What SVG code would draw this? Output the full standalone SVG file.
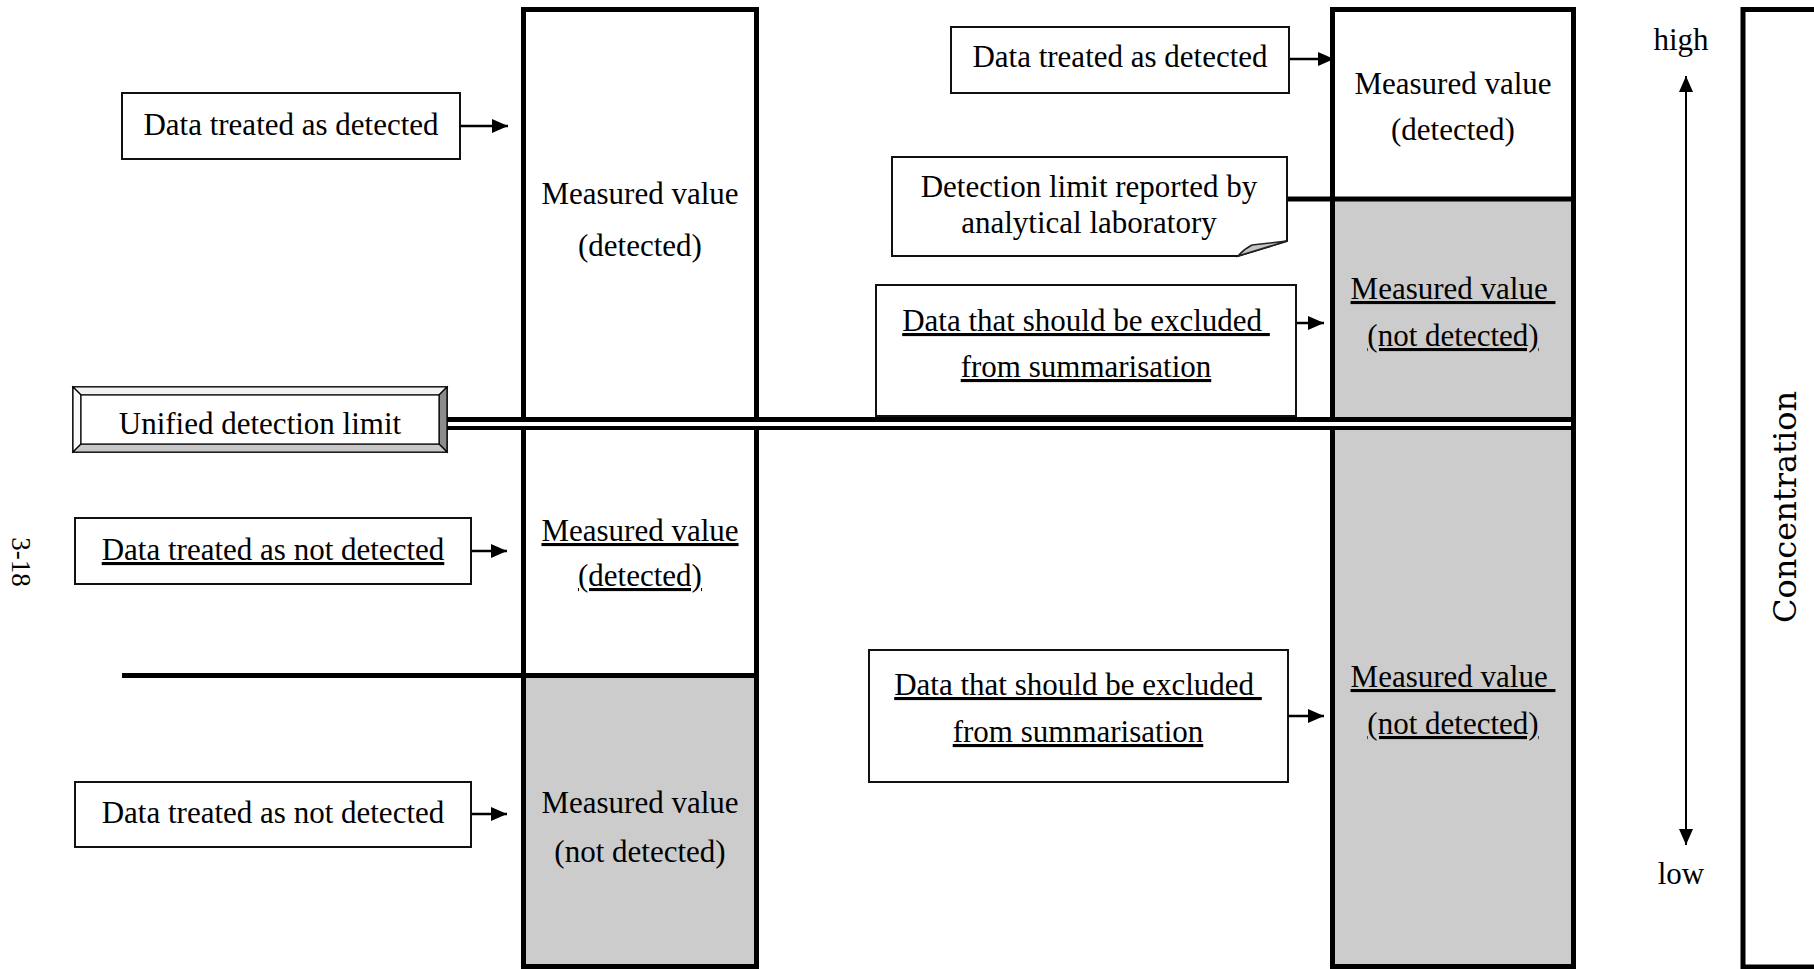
<svg xmlns="http://www.w3.org/2000/svg" width="1814" height="969" viewBox="0 0 1814 969">
<style>
text{font-family:"Liberation Serif","Times New Roman",serif;font-size:31px;fill:#000;text-anchor:middle}
.u{text-decoration:underline}
.box{fill:#fff;stroke:#111;stroke-width:2}
.col{fill:none;stroke:#000;stroke-width:5}
.gray{fill:#cccccc}
.thick{stroke:#000;stroke-width:5;fill:none}
.arr{stroke:#000;stroke-width:2.5;fill:none;marker-end:url(#ah)}
.varr{stroke:#000;stroke-width:2;fill:none;marker-end:url(#ah);marker-start:url(#ahs)}
</style>
<defs>
<marker id="ah" viewBox="0 0 16 14" refX="16" refY="7" markerWidth="16" markerHeight="14" markerUnits="userSpaceOnUse" orient="auto"><path d="M0,0 L16,7 L0,14 z" fill="#000"/></marker>
<marker id="ahs" viewBox="0 0 16 14" refX="16" refY="7" markerWidth="16" markerHeight="14" markerUnits="userSpaceOnUse" orient="auto-start-reverse"><path d="M0,0 L16,7 L0,14 z" fill="#000"/></marker>
</defs>
<rect width="1814" height="969" fill="#fff"/>

<g id="left-column">
<rect x="523.5" y="9.5" width="233" height="957" fill="#fff"/>
<rect class="gray" x="523.5" y="675" width="233" height="291.5"/>
<rect class="col" x="523.5" y="9.5" width="233" height="957"/>
<text x="640" y="204">Measured value</text>
<text x="640" y="256">(detected)</text>
<text class="u" x="640" y="541">Measured value</text>
<text class="u" x="640" y="586">(detected)</text>
<text x="640" y="813">Measured value</text>
<text x="640" y="862">(not detected)</text>
</g>

<g id="right-column">
<rect x="1332.5" y="9.5" width="241" height="957" fill="#fff"/>
<rect class="gray" x="1332.5" y="199" width="241" height="767.5"/>
<rect class="col" x="1332.5" y="9.5" width="241" height="957"/>
<text x="1453" y="94">Measured value</text>
<text x="1453" y="140">(detected)</text>
<text class="u" x="1453" y="299" xml:space="preserve">Measured value </text>
<text class="u" x="1453" y="346">(not detected)</text>
<text class="u" x="1453" y="687" xml:space="preserve">Measured value </text>
<text class="u" x="1453" y="734">(not detected)</text>
</g>

<g id="concentration-box">
<rect class="col" x="1743" y="9.5" width="100" height="957.5"/>
<text transform="translate(1796,507) rotate(-90)" style="font-family:'DejaVu Serif',serif;font-size:32px">Concentration</text>
</g>

<g id="page-number">
<text transform="translate(12,562) rotate(90)" style="font-size:27px">3-18</text>
</g>

<g id="unified-limit">
<rect x="447" y="422" width="1124" height="4" fill="#fff"/>
<line class="thick" x1="447" y1="419.5" x2="1576" y2="419.5"/>
<line x1="447" y1="428" x2="1576" y2="428" stroke="#000" stroke-width="4"/>
<rect x="73" y="387" width="374" height="65" fill="#fff" stroke="#000" stroke-width="1.5"/>
<polygon points="73,387 447,387 439,395 81,395" fill="#f2f2f2" stroke="#000" stroke-width="1.2"/>
<polygon points="73,387 81,395 81,444 73,452" fill="#fafafa" stroke="#000" stroke-width="1.2"/>
<polygon points="447,387 447,452 439,444 439,395" fill="#8c8c8c" stroke="#000" stroke-width="1.2"/>
<polygon points="73,452 81,444 439,444 447,452" fill="#c8c8c8" stroke="#000" stroke-width="1.2"/>
<rect x="81" y="395" width="358" height="49" fill="#fff" stroke="#000" stroke-width="1.2"/>
<text x="260" y="434">Unified detection limit</text>
</g>

<g id="connectors">
<line class="thick" x1="122" y1="675.5" x2="759" y2="675.5"/>
<line class="thick" x1="1287" y1="199" x2="1576" y2="199"/>
<line class="arr" x1="460" y1="126" x2="508" y2="126"/>
<line class="arr" x1="471" y1="551" x2="507" y2="551"/>
<line class="arr" x1="471" y1="814" x2="507" y2="814"/>
<line class="arr" x1="1289" y1="59" x2="1334" y2="59"/>
<line class="arr" x1="1296" y1="323" x2="1324" y2="323"/>
<line class="arr" x1="1288" y1="716" x2="1324" y2="716"/>
<line class="varr" x1="1686" y1="845" x2="1686" y2="76"/>
</g>

<g id="box-detected-left">
<rect class="box" x="122" y="93" width="338" height="66"/>
<text x="291" y="135">Data treated as detected</text>
</g>

<g id="box-not-detected-upper">
<rect class="box" x="75" y="518" width="396" height="66"/>
<text class="u" x="273" y="560">Data treated as not detected</text>
</g>

<g id="box-not-detected-lower">
<rect class="box" x="75" y="782" width="396" height="65"/>
<text x="273" y="823">Data treated as not detected</text>
</g>

<g id="box-detected-right">
<rect class="box" x="951" y="27" width="338" height="66"/>
<text x="1120" y="67">Data treated as detected</text>
</g>

<g id="note-lab-limit">
<path class="box" d="M892,157 H1287 V241 L1238,256 H892 Z"/>
<path d="M1238,256 Q1244,249 1252,245 L1287,241 Z" fill="#c4c4c4" stroke="#222" stroke-width="1.5"/>
<text x="1089" y="197">Detection limit reported by</text>
<text x="1089" y="233">analytical laboratory</text>
</g>

<g id="box-excluded-upper">
<rect class="box" x="876" y="285" width="420" height="131"/>
<text class="u" x="1086" y="331" xml:space="preserve">Data that should be excluded </text>
<text class="u" x="1086" y="377">from summarisation</text>
</g>

<g id="box-excluded-lower">
<rect class="box" x="869" y="650" width="419" height="132"/>
<text class="u" x="1078" y="695" xml:space="preserve">Data that should be excluded </text>
<text class="u" x="1078" y="742">from summarisation</text>
</g>

<g id="axis-labels">
<text x="1681" y="50">high</text>
<text x="1681" y="884">low</text>
</g>
</svg>
